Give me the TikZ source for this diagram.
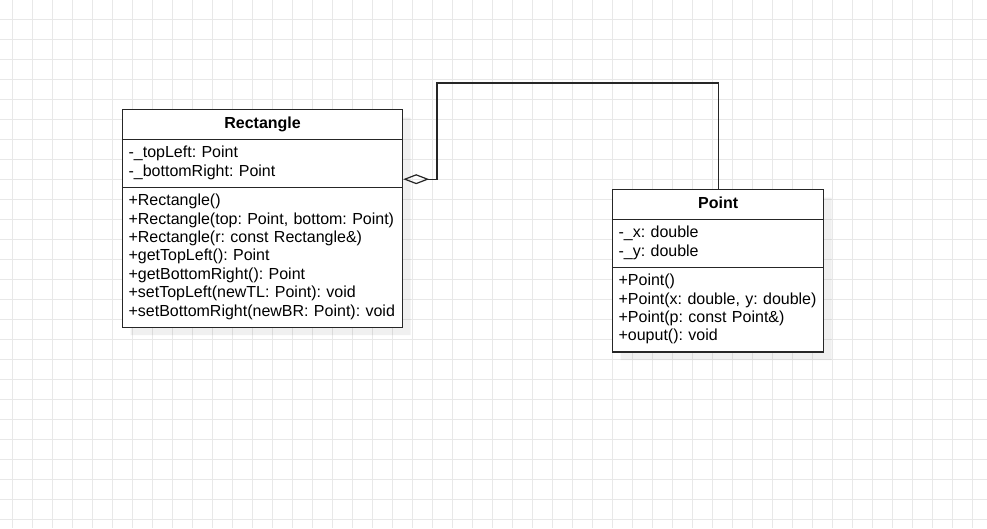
\documentclass[tikz,border=0pt]{standalone}
\usepackage{fontspec}
\setmainfont{Liberation Sans}
\usetikzlibrary{shapes.multipart,positioning,calc}
\usetikzlibrary{arrows.meta,shadows}
\colorlet{gridgray}{black!9}
\colorlet{linegray}{black!85}
\newcommand{\umlfont}{\fontsize{16}{18.4}\selectfont\frenchspacing\hyphenpenalty 10000\relax}

\begin{document}
\begin{tikzpicture}[x=1pt, y=-1pt, >=latex, umlclass/.style={rectangle split, rectangle split parts=3, draw=linegray, line width=1.2pt, fill=white, text width=#1, inner xsep=6pt, inner ysep=5pt, align=left, font=\umlfont, drop shadow={shadow xshift=8pt, shadow yshift=-8pt, fill=black, opacity=0.06}}, gridline/.style={draw=gridgray, line width=1pt}, aggregation/.style={draw=linegray, line width=1.2pt, -{Diamond[open, length=26pt, width=10pt]}}]
				% Background

				\fill[white] (0,0) rectangle (987,528);
				\useasboundingbox (0,0) rectangle (987,528);
				\foreach \gx in {12.5,32.5,...,992.5} \draw[gridline] (\gx,0) -- (\gx,528);
				\foreach \gy in {19.3,39.3,...,530} \draw[gridline] (0,\gy) -- (987,\gy);

				% Nodes

				\node [umlclass=268pt, anchor=north west] (rect) at (122,109)
				{%
					\nodepart{one}\makebox[\hsize][c]{\strut\bfseries Rectangle}
					\nodepart{two}\strut-\_topLeft: Point\\
					-\_bottomRight: Point\strut
					\nodepart{three}\strut+Rectangle()\\
					+Rectangle(top: Point, bottom: Point)\\
					+Rectangle(r: const Rectangle\&)\\
					+getTopLeft(): Point\\
					+getBottomRight(): Point\\
					+setTopLeft(newTL: Point): void\\
					+setBottomRight(newBR: Point): void\strut};
				\node [umlclass=199pt, anchor=north west] (pt) at (612,189)
				{%
					\nodepart{one}\makebox[\hsize][c]{\strut\bfseries Point}
					\nodepart{two}\strut-\_x: double\\
					-\_y: double\strut
					\nodepart{three}\strut+Point()\\
					+Point(x: double, y: double)\\
					+Point(p: const Point\&)\\
					+ouput(): void\strut};
				\coordinate (hook) at ($ (rect.two split east) +(0,-8) $);
				\coordinate (corner) at (437,83);

				% Arrows

				\draw[aggregation] (pt.north) |- (corner) |- (hook);
			\end{tikzpicture}
\end{document}
